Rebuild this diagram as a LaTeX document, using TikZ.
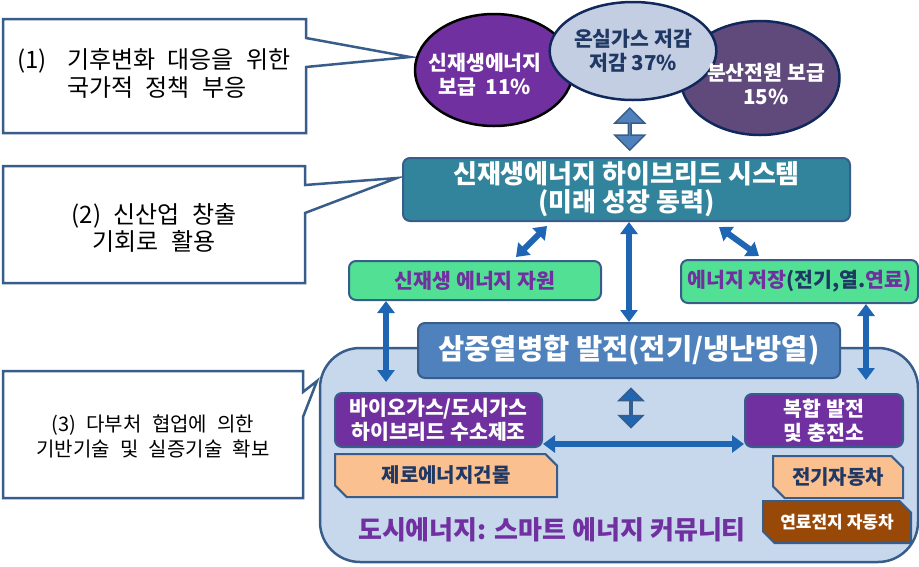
\documentclass[tikz,border=0pt]{standalone}
\usepackage{fontspec}
\setmainfont{Noto Sans CJK KR}
\newfontfamily\notefont{Noto Sans CJK KR}[WordSpace=2.3]
\usetikzlibrary{positioning, arrows.meta, shapes, calc}

\definecolor{frame}{HTML}{385D8A}
\definecolor{kpurple}{HTML}{7030A0}
\definecolor{dusk}{HTML}{604A7B}
\definecolor{mist}{HTML}{C4CEE2}
\definecolor{navy}{HTML}{10285C}
\definecolor{navytext}{HTML}{1F3864}
\definecolor{teal}{HTML}{31849B}
\definecolor{mint}{HTML}{52E094}
\definecolor{steel}{HTML}{4F81BD}
\definecolor{pale}{HTML}{C8D8EC}
\definecolor{peach}{HTML}{FAC090}
\definecolor{rust}{HTML}{984807}
\definecolor{linkblue}{HTML}{1E66B4}

\begin{document}
\begin{tikzpicture}[x=1pt, y=-1pt,
  callbox/.style={draw=frame, line width=2.5pt, fill=white, line join=miter},
  notetext/.style={align=center, font=\notefont\fontsize{24}{27}\selectfont},
  bubble/.style={ellipse, line width=2.5pt, align=center, inner sep=0pt,
    font=\bfseries\fontsize{20.5}{24}\selectfont},
  panel/.style={rectangle, rounded corners=7pt, draw=frame, line width=2pt,
    align=center, inner sep=0pt, font=\bfseries\fontsize{20.5}{24}\selectfont},
  tag/.style={chamfered rectangle, chamfered rectangle corners={north east, south west},
    chamfered rectangle xsep=8pt, draw=frame, line width=2pt, inner sep=0pt,
    font=\bfseries\fontsize{20}{24}\selectfont},
  link/.style={{Triangle[width=17pt,length=12pt]}-{Triangle[width=17pt,length=12pt]},
    line width=6pt, draw=linkblue},
  fatarrow/.style={double arrow, draw=frame, line width=1.5pt, shape border rotate=90,
    inner sep=0pt}
]
\useasboundingbox (0,0) rectangle (919,566);

% callouts on the left
\draw[callbox] (3,19) -- (306,19) -- (306,38) -- (410,57) -- (306,67) -- (306,133) -- (3,133) -- cycle;
\node[notetext, align=left, anchor=west] (note1) at (14,77)
  {\begin{tabular}{@{}l@{\hspace{20pt}}l@{}}(1)&기후변화 대응을 위한\\&국가적 정책 부응\end{tabular}};

\draw[callbox] (3,166) -- (305,166) -- (305,185) -- (397,178) -- (305,213) -- (305,283) -- (3,283) -- cycle;
\node[notetext] (note2) at (154,228) {(2) 신산업 창출\\기회로 활용};

\draw[callbox] (3,371) -- (303,371) -- (303,392) -- (317,381) -- (303,417) -- (303,498) -- (3,498) -- cycle;
\node[notetext, font=\notefont\fontsize{20}{25}\selectfont] (note3) at (153,436)
  {(3) 다부처 협업에 의한\\기반기술 및 실증기술 확보};

% goals
\node[bubble, draw=black, fill=kpurple, text=white, minimum width=158pt, minimum height=112pt] (renew) at (494,70) {};
\node[bubble, draw=navy, fill=dusk, text=white, minimum width=159pt, minimum height=114pt] (dist) at (760,78) {};
\node[bubble, draw=navy, fill=mist, text=navytext, minimum width=157pt, minimum height=98pt] (ghg) at (633,51) {온실가스 저감\\저감 37\%};
\node[bubble, draw=none, text=white] (renewtext) at ([xshift=-9pt, yshift=-5pt]renew.center) {신재생에너지\\보급~~11\%};
\node[bubble, draw=none, text=white] (disttext) at ([xshift=6pt, yshift=-6pt]dist.center) {분산전원 보급\\15\%};

% hybrid system
\node[panel, fill=teal, text=white, minimum width=447pt, minimum height=63pt,
  font=\bfseries\fontsize{26}{28}\selectfont] (hybrid) at (626.5,189.5) {신재생에너지 하이브리드 시스템\\(미래 성장 동력)};
\node[fatarrow, fill=steel, minimum height=42pt, minimum width=30pt,
  double arrow head extend=7pt] (goallink) at ($(ghg.south)!0.5!(hybrid.north)$) {};

\node[panel, fill=mint, text=kpurple, minimum width=252pt, minimum height=39pt] (source) at (475,280.5) {신재생 에너지 자원};
\node[panel, fill=mint, text=kpurple, minimum width=237pt, minimum height=43pt] (store) at (799.5,281.5)
  {에너지 저장{\color{navytext}(전기,열.}연료)};

% smart energy community
\node[rectangle, rounded corners=40pt, draw=frame, line width=2.5pt, fill=pale,
  minimum width=598pt, minimum height=214pt] (city) at (619,455) {};
\node[text=kpurple, font=\bfseries\fontsize{26}{30}\selectfont] (citylabel) at (552,530) {도시에너지: 스마트 에너지 커뮤니티};

\node[panel, fill=steel, text=white, minimum width=422pt, minimum height=55pt,
  font=\bfseries\fontsize{28.5}{30}\selectfont] (chp) at (629,350.5) {삼중열병합 발전(전기/냉난방열)};

\node[panel, fill=kpurple, text=white, minimum width=207pt, minimum height=54pt] (bio) at (438.5,420) {바이오가스/도시가스\\하이브리드 수소제조};
\node[panel, fill=kpurple, text=white, minimum width=158pt, minimum height=53pt] (hub) at (824,420.5) {복합 발전\\및 충전소};

\node[tag, fill=peach, text=navytext, minimum width=222pt, minimum height=43pt] (zeb) at (446,475.5) {제로에너지건물};
\node[tag, fill=peach, text=navytext, minimum width=130pt, minimum height=42pt] (ev) at (838,477) {전기자동차};
\node[tag, fill=rust, text=white, minimum width=148pt, minimum height=42pt,
  font=\bfseries\fontsize{17}{20}\selectfont] (fcev) at (837,522) {연료전지 자동차};

\node[fatarrow, fill=linkblue, minimum height=39pt, minimum width=24pt,
  double arrow head extend=7.5pt] (cityhub) at (631,408) {};

% links
\coordinate (lin) at (386,382);
\coordinate (rin) at (866,380);
\draw[link] ($(hybrid.south west)+(145,4)$) -- ($(source.north west)+(168,-3)$);
\draw[link] (hybrid.south -| chp.north) -- (chp.north);
\draw[link] ($(hybrid.south west)+(317,5)$) -- ($(store.north west)+(79,-3)$);
\draw[link] (source.south -| lin) -- (lin);
\draw[link] (store.south -| rin) -- (rin);
\draw[link] ([yshift=4pt]bio.south east) -- ([yshift=4pt]hub.south west);
\end{tikzpicture}
\end{document}
